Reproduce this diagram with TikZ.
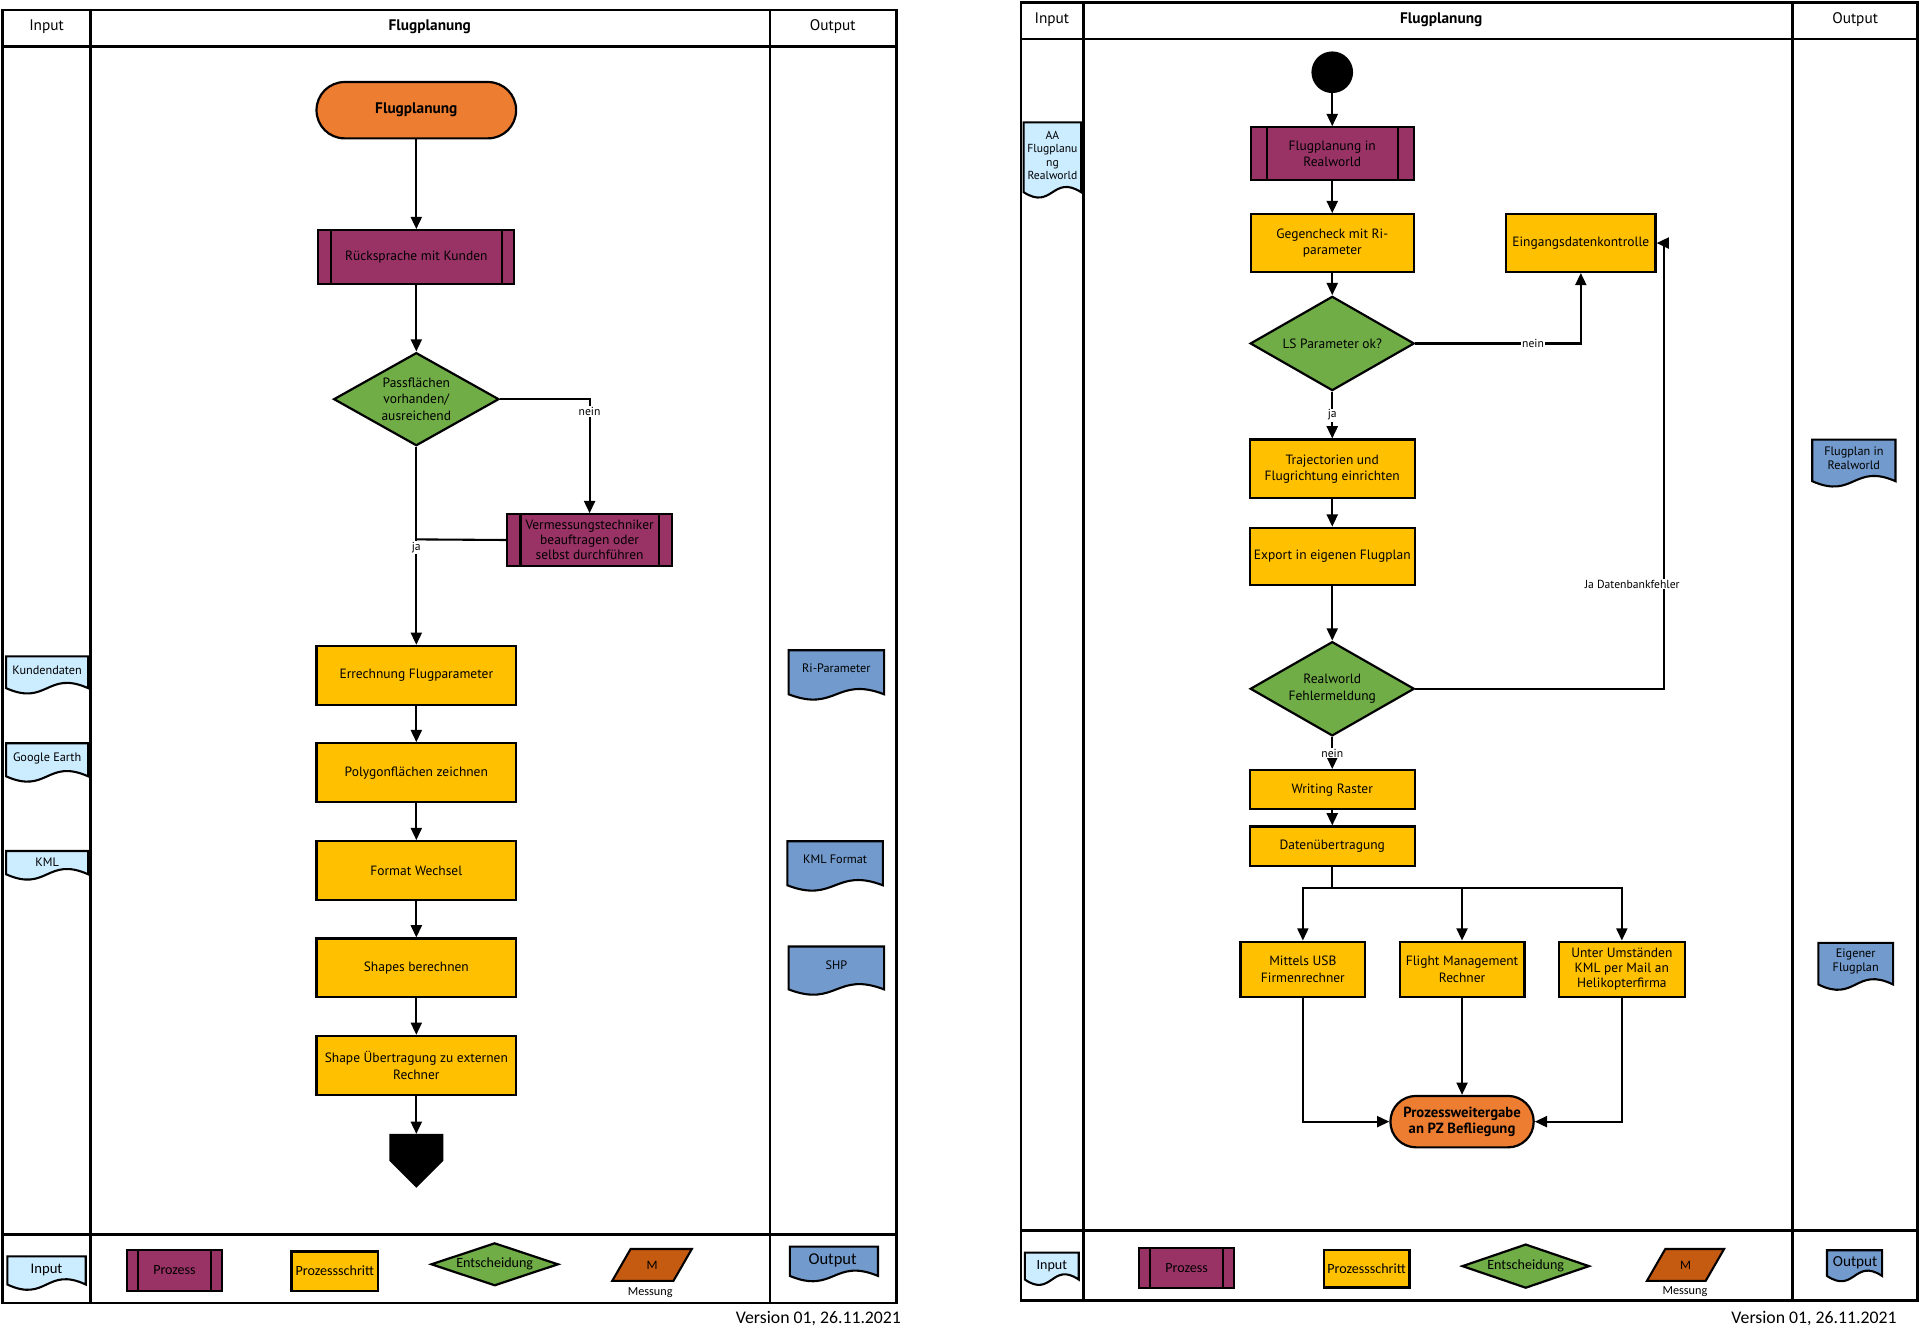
\documentclass[tikz,border=0pt]{standalone}
\usepackage{fontspec}
\setmainfont{PT Sans}
\newfontfamily\legfont{Carlito}
\usetikzlibrary{arrows.meta,shapes.geometric}
\definecolor{cOrange}{HTML}{ED7D31}
\definecolor{cPurple}{HTML}{993366}
\definecolor{cYellow}{HTML}{FFC000}
\definecolor{cGreen}{HTML}{70AD47}
\definecolor{cInBlue}{HTML}{CCECFF}
\definecolor{cOutBlue}{HTML}{729ACC}
\definecolor{cBrown}{HTML}{C55A11}
\newcommand\fs[2]{\fontsize{#1}{#2}\selectfont}
\newcommand\docshp[5]{%
  \pgfmathsetmacro\dmid{(#1+#3)/2}%
  \filldraw[line width=1.7pt, fill=#5] (#1,#2) -- (#3,#2) -- (#3,#4) .. controls (\dmid,#4-15) and (\dmid,#4+15) .. (#1,#4) -- cycle;}
\tikzset{
  frame/.style={line width=2pt},
  hdr/.style={inner sep=0pt, font=\fs{12.5}{14}},
  box/.style={draw, line width=1.8pt, rectangle, align=center, inner sep=1pt, font=\fs{11}{13.5}},
  stepbox/.style={box, fill=cYellow},
  subbox/.style={box, fill=cPurple, path picture={
      \draw[line width=1.8pt] ([xshift=#1]path picture bounding box.north west) -- ([xshift=#1]path picture bounding box.south west)
        ([xshift=-#1]path picture bounding box.north east) -- ([xshift=-#1]path picture bounding box.south east);}},
  subbox/.default=10pt,
  termbox/.style={box, fill=cOrange, rounded corners=#1, font=\bfseries\fs{12.5}{14}},
  decision/.style={box, diamond, fill=cGreen, inner sep=0pt, shape aspect=1.75},
  arr/.style={line width=1.7pt, -{Triangle[length=10pt,width=9pt]}},
  conn/.style={line width=1.7pt},
  lbl/.style={fill=white, inner sep=1pt, font=\fs{9.5}{10}},
  doctext/.style={align=center, inner sep=0pt, font=\fs{10}{11.5}},
  legtext/.style={inner sep=0pt, font=\legfont\fs{10.5}{12}},
}
\begin{document}
\begin{tikzpicture}[x=1pt,y=-1pt]
\useasboundingbox (0,0) rectangle (1568,1094);

% ================= LEFT DIAGRAM =================
\draw[frame] (2,8) rectangle (732,1064);
\draw[frame] (2,38) -- (732,38);
\draw[frame] (74,8) -- (74,1064);
\draw[frame] (629,8) -- (629,1064);
\draw[frame] (2,1008) -- (732,1008);
\node[hdr] (hL1) at (38,22) {Input};
\node[hdr, font=\bfseries\fs{12.5}{14}] (hL2) at (351,22) {Flugplanung};
\node[hdr] (hL3) at (680,22) {Output};

\node[termbox=22.9pt, minimum width=163pt, minimum height=46pt] (t1) at (340,90) {Flugplanung};
\node[subbox, minimum width=160pt, minimum height=44pt] (r1) at (340,210) {Rücksprache mit Kunden};
\node[decision, minimum width=135pt, minimum height=76pt] (d1) at (340,326) {Passflächen\\vorhanden/\\ausreichend};
\node[subbox=11pt, minimum width=135pt, minimum height=42pt, font=\fs{11}{12.5}] (v1) at (481.5,441) {Vermessungstechniker\\beauftragen oder\\selbst durchführen};
\node[stepbox, minimum width=163pt, minimum height=48pt] (p1) at (340,551.5) {Errechnung Flugparameter};
\node[stepbox, minimum width=163pt, minimum height=48pt] (p2) at (340,631) {Polygonflächen zeichnen};
\node[stepbox, minimum width=163pt, minimum height=48pt] (p3) at (340,711) {Format Wechsel};
\node[stepbox, minimum width=163pt, minimum height=48pt] (p4) at (340,790.5) {Shapes berechnen};
\node[stepbox, minimum width=163pt, minimum height=48pt] (p5) at (340,870) {Shape Übertragung zu externen\\Rechner};
\fill (318,926) -- (362,926) -- (362,948) -- (340,970) -- (318,948) -- cycle;
\coordinate (offp) at (340,926);
\coordinate (jn) at (340,440.5);

\draw[arr] (t1) -- (r1);
\draw[arr] (r1) -- (d1);
\draw[arr] (d1.east) -| (v1.north);
\draw[conn] (d1.south) -- (jn);
\draw[conn] (v1.west) -- (jn);
\draw[arr] (jn) -- (p1.north);
\draw[arr] (p1) -- (p2);
\draw[arr] (p2) -- (p3);
\draw[arr] (p3) -- (p4);
\draw[arr] (p4) -- (p5);
\draw[arr] (p5) -- (offp);
\node[lbl] (lnein1) at (481.5,336) {nein};
\node[lbl] (lja1) at (340,447) {ja};

% inputs / outputs left
\docshp{5}{536}{72}{562}{cInBlue}
\node[doctext] (inK) at (38.5,547) {Kundendaten};
\docshp{5}{607}{72}{634}{cInBlue}
\node[doctext] (inG) at (38.5,619) {Google Earth};
\docshp{5}{695}{72}{714}{cInBlue}
\node[doctext] (inKML) at (38.5,704) {KML};
\docshp{644}{531}{722}{567}{cOutBlue}
\node[doctext] (outRi) at (683,546) {Ri-Parameter};
\docshp{643}{687}{721}{723}{cOutBlue}
\node[doctext] (outKML) at (682,702) {KML Format};
\docshp{644}{773}{722}{808}{cOutBlue}
\node[doctext] (outSHP) at (683,788) {SHP};

% legend left
\docshp{6}{1026}{70}{1049}{cInBlue}
\node[legtext, font=\legfont\fs{12}{13}] (lgIn1) at (38,1037) {Input};
\node[subbox=9pt, minimum width=77pt, minimum height=33pt, font=\legfont\fs{11.5}{13}] (lgP1) at (142.5,1037.5) {Prozess};
\node[stepbox, minimum width=71pt, minimum height=32pt, inner sep=0pt, font=\legfont\fs{11.5}{13}] (lgS1) at (273.5,1038) {Prozessschritt};
\node[decision, shape aspect=2.97, minimum width=104pt, minimum height=35pt, font=\legfont\fs{11.5}{13}] (lgE1) at (404,1032.5) {Entscheidung};
\filldraw[line width=1.7pt, fill=cBrown] (515,1020) -- (565,1020) -- (550,1046) -- (500,1046) -- cycle;
\node[legtext, font=\legfont\fs{10.5}{12}] (lgM1) at (532.5,1033) {M};
\node[legtext, font=\legfont\fs{10}{11}] (lgMs1) at (531,1056) {Messung};
\docshp{645}{1018}{717}{1042}{cOutBlue}
\node[legtext, font=\legfont\fs{13.5}{15}] (lgOut1) at (680,1029) {Output};

\node[anchor=east, inner sep=0pt, font=\legfont\fs{14.5}{16}] (ver1) at (736,1077) {Version 01, 26.11.2021};

% ================= RIGHT DIAGRAM =================
\draw[frame] (834,2) rectangle (1566,1062);
\draw[frame] (834,32) -- (1566,32);
\draw[frame] (885,2) -- (885,1062);
\draw[frame] (1464,2) -- (1464,1062);
\draw[frame] (834,1005) -- (1566,1005);
\node[hdr] (hR1) at (859,16) {Input};
\node[hdr, font=\bfseries\fs{12.5}{14}] (hR2) at (1177,16) {Flugplanung};
\node[hdr] (hR3) at (1515,16) {Output};

\node[circle, fill=black, minimum size=34pt, inner sep=0pt] (s0) at (1088,59) {};
\node[subbox=13pt, minimum width=133pt, minimum height=43pt] (r2) at (1088,125.5) {Flugplanung in\\Realworld};
\node[stepbox, minimum width=133pt, minimum height=47pt] (g1) at (1088,198.5) {Gegencheck mit Ri-\\parameter};
\node[stepbox, minimum width=122pt, minimum height=47pt] (e1) at (1291,198.5) {Eingangsdatenkontrolle};
\node[decision, minimum width=134pt, minimum height=77pt] (d2) at (1088,280.5) {LS Parameter ok?};
\node[stepbox, minimum width=135pt, minimum height=48pt] (t2) at (1088,383) {Trajectorien und\\Flugrichtung einrichten};
\node[stepbox, minimum width=135pt, minimum height=47pt] (x2) at (1088,454.5) {Export in eigenen Flugplan};
\node[decision, minimum width=134pt, minimum height=77pt] (d3) at (1088,562.5) {Realworld\\Fehlermeldung};
\node[stepbox, minimum width=135pt, minimum height=32pt] (w1) at (1088,645) {Writing Raster};
\node[stepbox, minimum width=135pt, minimum height=32pt] (u1) at (1088,691) {Datenübertragung};
\node[stepbox, minimum width=102pt, minimum height=45pt] (m1) at (1064,791.5) {Mittels USB\\Firmenrechner};
\node[stepbox, minimum width=102pt, minimum height=45pt] (m2) at (1194,791.5) {Flight Management\\Rechner};
\node[stepbox, minimum width=103pt, minimum height=45pt, font=\fs{11}{12.5}] (m3) at (1324.5,791.5) {Unter Umständen\\KML per Mail an\\Helikopterfirma};
\node[termbox=20.9pt, minimum width=117pt, minimum height=42pt, font=\bfseries\fs{12}{13.5}] (z1) at (1194,916) {Prozessweitergabe\\an PZ Befliegung};
\coordinate (jd) at (1359,198.5);
\coordinate (br) at (1088,725);

\draw[arr] (s0) -- (r2);
\draw[arr] (r2) -- (g1);
\draw[arr] (g1) -- (d2);
\draw[arr] (d2.east) -| (e1.south);
\draw[arr] (d2.south) -- (t2.north);
\draw[arr] (t2) -- (x2);
\draw[arr] (x2) -- (d3);
\draw[arr] (d3.east) -| (jd) -- (e1.east);
\draw[arr] (d3.south) -- (w1.north);
\draw[arr] (w1) -- (u1);
\draw[conn] (u1.south) -- (br);
\draw[arr] (br) -| (m1.north);
\draw[arr] (br) -| (m2.north);
\draw[arr] (br) -| (m3.north);
\draw[arr] (m1.south) |- (z1.west);
\draw[arr] (m2.south) -- (z1.north);
\draw[arr] (m3.south) |- (z1.east);
\node[lbl] (lnein2) at (1252,280.5) {nein};
\node[lbl] (lja2) at (1088,339) {ja};
\node[lbl] (lnein3) at (1088,615) {nein};
\node[lbl] (ljd) at (1333,477) {Ja Datenbankfehler};

% inputs / outputs right
\docshp{836}{100}{883}{157}{cInBlue}
\node[doctext, font=\fs{9.5}{11}] (inAA) at (859.5,127) {AA\\Flugplanu\\ng\\Realworld};
\docshp{1480}{359}{1548}{393}{cOutBlue}
\node[doctext] (outFR) at (1514,374) {Flugplan in\\Realworld};
\docshp{1485}{770}{1546}{804}{cOutBlue}
\node[doctext] (outEF) at (1515.5,785) {Eigener\\Flugplan};

% legend right
\docshp{837}{1023}{881}{1045}{cInBlue}
\node[legtext, font=\legfont\fs{11.5}{13}] (lgIn2) at (859,1034) {Input};
\node[subbox=9pt, minimum width=78pt, minimum height=33pt, font=\legfont\fs{11.5}{13}] (lgP2) at (969,1035.5) {Prozess};
\node[stepbox, minimum width=70pt, minimum height=31pt, inner sep=0pt, font=\legfont\fs{11.5}{13}] (lgS2) at (1116,1036) {Prozessschritt};
\node[decision, shape aspect=2.89, minimum width=104pt, minimum height=36pt, font=\legfont\fs{11.5}{13}] (lgE2) at (1246,1034) {Entscheidung};
\filldraw[line width=1.7pt, fill=cBrown] (1360,1020) -- (1408,1020) -- (1393,1046) -- (1345,1046) -- cycle;
\node[legtext, font=\legfont\fs{10.5}{12}] (lgM2) at (1376.5,1033) {M};
\node[legtext, font=\legfont\fs{10}{11}] (lgMs2) at (1376,1055) {Messung};
\docshp{1492}{1021}{1537}{1042}{cOutBlue}
\node[legtext, font=\legfont\fs{12.5}{14}] (lgOut2) at (1515,1031) {Output};

\node[anchor=east, inner sep=0pt, font=\legfont\fs{14.5}{16}] (ver2) at (1549,1077) {Version 01, 26.11.2021};
\end{tikzpicture}
\end{document}
